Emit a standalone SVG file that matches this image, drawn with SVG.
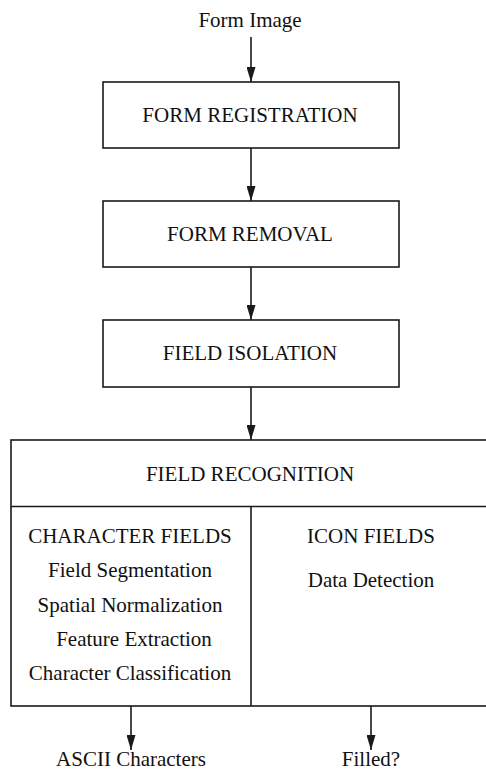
<svg xmlns="http://www.w3.org/2000/svg" width="486" height="772" viewBox="0 0 486 772" font-family="'Liberation Serif', 'DejaVu Serif', serif">
  <style>
    .box { fill: #ffffff; stroke: #1a1a1a; stroke-width: 1.6; }
    .edge { stroke: #1a1a1a; stroke-width: 1.6; fill: none; }
    .lbl { font-family: 'Liberation Serif', 'DejaVu Serif', serif; font-size: 21px; fill: #111111; text-anchor: middle; }
  </style>
  <defs>
    <marker id="head" viewBox="0 0 15 9" refX="15" refY="4.5" markerWidth="15" markerHeight="9" markerUnits="userSpaceOnUse" orient="auto">
      <path d="M0,0 L15,4.5 L0,9 Z" fill="#1a1a1a"/>
    </marker>
  </defs>

  <rect width="486" height="772" fill="#ffffff"/>

  <g id="connectors">
    <line class="edge" x1="251" y1="37" x2="251" y2="82" marker-end="url(#head)"/>
    <line class="edge" x1="251" y1="148" x2="251" y2="201" marker-end="url(#head)"/>
    <line class="edge" x1="251" y1="267" x2="251" y2="320" marker-end="url(#head)"/>
    <line class="edge" x1="251" y1="387" x2="251" y2="440" marker-end="url(#head)"/>
    <line class="edge" x1="131" y1="706" x2="131" y2="750" marker-end="url(#head)"/>
    <line class="edge" x1="371" y1="706" x2="371" y2="750" marker-end="url(#head)"/>
  </g>

  <g id="form-image">
    <text class="lbl" x="250" y="27">Form Image</text>
  </g>

  <g id="form-registration">
    <rect class="box" x="103" y="82" width="296" height="66"/>
    <text class="lbl" x="250" y="122">FORM REGISTRATION</text>
  </g>

  <g id="form-removal">
    <rect class="box" x="103" y="201" width="296" height="66"/>
    <text class="lbl" x="250" y="241">FORM REMOVAL</text>
  </g>

  <g id="field-isolation">
    <rect class="box" x="103" y="320" width="296" height="67"/>
    <text class="lbl" x="250" y="360">FIELD ISOLATION</text>
  </g>

  <g id="field-recognition">
    <rect class="box" x="11" y="440" width="485" height="266"/>
    <line class="edge" x1="11" y1="506.5" x2="496" y2="506.5"/>
    <line class="edge" x1="251" y1="506.5" x2="251" y2="706"/>
    <text class="lbl" x="250" y="481">FIELD RECOGNITION</text>
    <text class="lbl" x="130" y="543">CHARACTER FIELDS</text>
    <text class="lbl" x="130" y="577">Field Segmentation</text>
    <text class="lbl" x="130" y="612">Spatial Normalization</text>
    <text class="lbl" x="134" y="646">Feature Extraction</text>
    <text class="lbl" x="130" y="680">Character Classification</text>
    <text class="lbl" x="371" y="543">ICON FIELDS</text>
    <text class="lbl" x="371" y="587">Data Detection</text>
  </g>

  <g id="ascii-characters">
    <text class="lbl" x="131" y="766">ASCII Characters</text>
  </g>

  <g id="filled">
    <text class="lbl" x="371" y="766">Filled?</text>
  </g>
</svg>
